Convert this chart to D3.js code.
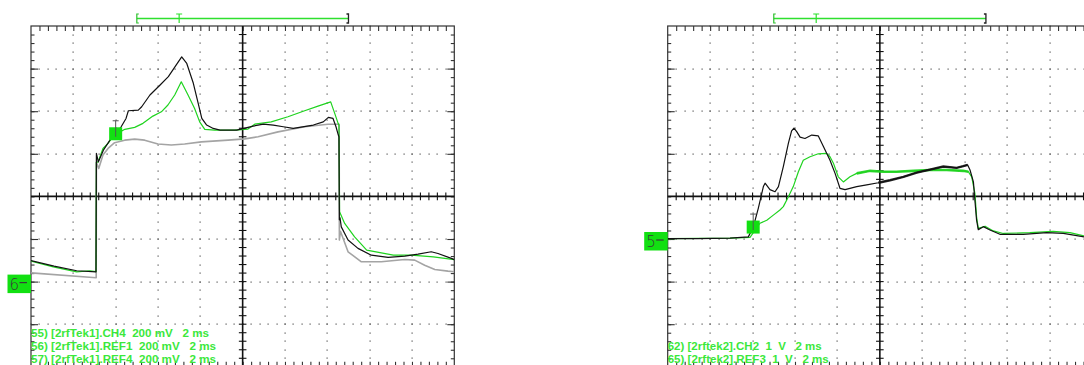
<!DOCTYPE html>
<html><head><meta charset="utf-8">
<script src="https://cdn.jsdelivr.net/npm/d3@7"></script>
<style>body{margin:0;background:#fff}svg{display:block}</style>
</head><body>
<svg id="c" width="1084" height="365"></svg>
<script>
// ---------------- DATA ----------------
// time in ms (2 ms/div, 10 div), left panel in mV (200 mV/div), right panel in V (1 V/div)
const leftCH4 = [[0,99],[1.09,73],[2.16,51],[3.07,46],[3.09,602],[3.18,562],[3.42,617],[3.73,664],[3.97,688],[4.26,727],[4.49,766],[4.60,802],[5.07,805],[5.23,821],[5.62,876],[6.10,923],[6.49,962],[6.80,1008],[7.12,1055],[7.36,1024],[7.67,931],[7.90,837],[8.07,766],[8.30,735],[8.61,719],[8.93,711],[9.72,711],[10.50,730],[10.98,739],[11.45,735],[11.92,727],[12.39,719],[13.34,735],[13.81,750],[14.05,771],[14.27,766],[14.41,727],[14.52,688],[14.55,680],[14.57,290],[14.60,300],[14.66,257],[14.98,195],[15.45,156],[16.08,124],[16.87,114],[17.66,120],[18.29,129],[18.91,140],[19.23,132],[19.86,109],[20,103]];
const leftREF1 = [[0,96],[1.05,69],[2.16,46],[2.79,51],[3.07,47],[3.09,560],[3.17,562],[3.40,625],[3.64,649],[3.87,680],[4.11,696],[4.43,715],[4.90,724],[5.29,743],[5.76,777],[6.16,797],[6.47,829],[6.79,876],[7.10,938],[7.42,876],[7.73,813],[7.97,750],[8.21,715],[8.68,711],[9.62,711],[10.25,716],[10.57,739],[11.35,750],[12.14,774],[12.93,802],[13.56,824],[14.16,844],[14.35,790],[14.51,743],[14.55,734],[14.58,328],[14.82,273],[15.29,210],[15.86,148],[17.12,124],[17.97,124],[19.01,116],[20,103]];
const leftREF4 = [[0,41],[3.08,18],[3.09,560],[3.20,531],[3.40,594],[3.64,625],[3.95,652],[4.43,664],[4.90,669],[5.37,664],[6.00,646],[6.63,641],[7.26,646],[8.05,656],[9.31,664],[10.10,670],[10.73,680],[11.67,703],[12.93,727],[14.03,739],[14.56,739],[14.57,195],[14.62,236],[14.70,215],[14.98,140],[15.61,93],[16.55,93],[17.66,104],[18.13,101],[18.60,77],[19.08,57],[19.70,49],[20,46]];
const rightCH2 = [[0,0.01],[1.37,0.01],[2.94,0.02],[3.80,0.05],[4.04,0.29],[4.27,0.72],[4.51,1.23],[4.59,1.31],[4.82,1.16],[5.06,1.11],[5.22,1.23],[5.45,1.70],[5.69,2.25],[5.84,2.54],[5.95,2.60],[6.08,2.52],[6.24,2.39],[6.47,2.36],[6.79,2.44],[7.10,2.42],[7.34,2.17],[7.65,1.85],[7.89,1.54],[8.12,1.19],[8.36,1.16],[8.91,1.23],[9.38,1.27],[9.93,1.32],[10.48,1.38],[11.11,1.46],[11.74,1.56],[12.36,1.63],[12.99,1.70],[13.62,1.67],[13.93,1.71],[14.14,1.74],[14.25,1.62],[14.41,1.34],[14.48,0.91],[14.56,0.44],[14.64,0.22],[14.88,0.29],[15.19,0.21],[15.66,0.11],[16.76,0.11],[17.86,0.15],[18.65,0.13],[19.64,0.05],[20,0.04]];
const rightREF3 = [[0,0.01],[2.94,0.02],[3.88,0.04],[4.35,0.37],[4.67,0.44],[4.98,0.56],[5.29,0.68],[5.45,0.76],[5.69,0.99],[5.92,1.23],[6.16,1.58],[6.39,1.85],[6.71,1.93],[7.10,2.00],[7.49,2.01],[7.65,1.93],[7.81,1.78],[8.04,1.46],[8.28,1.34],[8.59,1.46],[8.91,1.54],[9.54,1.60],[10.16,1.58],[10.79,1.58],[11.58,1.60],[12.36,1.62],[13.15,1.62],[13.93,1.60],[14.17,1.58],[14.33,1.46],[14.48,1.07],[14.56,0.52],[14.64,0.25],[14.96,0.30],[15.35,0.19],[15.82,0.13],[17.07,0.15],[18.17,0.18],[18.96,0.15],[19.64,0.07],[20,0.05]];
const leftLegend = ["55) [2rfTek1].CH4  200 mV   2 ms","56) [2rfTek1].REF1  200 mV   2 ms","57) [2rfTek1].REF4  200 mV   2 ms"];
const rightLegend = ["62) [2rftek2].CH2  1  V   2 ms","65) [2rftek2].REF3  1  V   2 ms"];
const timeDomainMs = [0, 20];
const leftVoltDomain = [-400, 1200];   // mV
const rightVoltDomain = [-3, 5];       // V
const groundLabels = ["6", "5"];
const triggerPoints = [[4.0, 694], [4.03, 0.28]];   // [ms, level]
const recordWindow = [5, 15, 7];                    // start, end, T mark (ms)

// ---------------- DRAW ----------------
const svg = d3.select("#c");
svg.append("rect").attr("width",1084).attr("height",365).attr("fill","#fff");
const TOP = 26, BOT = 366.8;
const GREEN_TRACE = "#1fd31f", GREEN_TEXT = "#3be83b", GREEN_FILL = "#12e012";

const panels = [
  {id:"L", x0:31, x1:454.3, yDom:leftVoltDomain, ground:0, label:groundLabels[0], trig:triggerPoints[0],
   series:[{d:leftREF4,c:"#a4a4a4",w:1.6},{d:leftREF1,c:GREEN_TRACE,w:1.2},{d:leftCH4,c:"#111",w:1.2}],
   noisy:[], legend:leftLegend, legendBase:337, legendW:[178,185,185]},
  {id:"R", x0:667.7, x1:1092, yDom:rightVoltDomain, ground:0, label:groundLabels[1], trig:triggerPoints[1],
   series:[{d:rightREF3,c:GREEN_TRACE,w:1.2},{d:rightCH2,c:"#111",w:1.2}],
   noisy:[{si:0,from:8.6,to:14.2,w:2.6},{si:1,from:9.4,to:14.2,w:2.4}],
   legend:rightLegend, legendBase:350, legendW:[154,161]}
];

svg.append("defs").selectAll("clipPath").data(panels).join("clipPath")
  .attr("id",p=>"clip"+p.id).append("rect")
  .attr("x",p=>p.x0).attr("y",TOP).attr("width",p=>p.x1-p.x0).attr("height",BOT-TOP);

panels.forEach(p=>{
  const x = d3.scaleLinear().domain(timeDomainMs).range([p.x0,p.x1]);
  const y = d3.scaleLinear().domain(p.yDom).range([BOT,TOP]);
  const xd = d3.scaleLinear().domain([0,10]).range([p.x0,p.x1]);
  const yd = d3.scaleLinear().domain([-4,4]).range([BOT,TOP]);
  const g = svg.append("g");

  // dotted graticule
  const minorX = d3.range(0,50.001,1).map(i=>i*0.2);
  const minorY = d3.range(-20,20.001,1).map(i=>i*0.2);
  const dots = [];
  [1,2,3,4,6,7,8,9].forEach(i=>minorY.forEach(v=>dots.push([xd(i),yd(v)])));
  [-3,-2,-1,1,2,3].forEach(k=>minorX.forEach(v=>dots.push([xd(v),yd(k)])));
  g.append("g").selectAll("rect").data(dots).join("rect")
    .attr("x",d=>Math.round(d[0])-0.5).attr("y",d=>Math.round(d[1])-0.5)
    .attr("width",1.2).attr("height",1.2).attr("fill","#555");

  // border
  g.append("rect").attr("x",p.x0).attr("y",TOP).attr("width",p.x1-p.x0).attr("height",BOT-TOP)
    .attr("fill","none").attr("stroke","#333").attr("stroke-width",1.2);

  // border ticks via axes
  const tickV = minorX.filter(v=>v>0&&v<10);
  const tickH = minorY.filter(v=>v>-4&&v<4);
  const ax = (axis, tr)=>g.append("g").attr("transform",tr).call(axis)
      .call(s=>{s.select(".domain").remove();s.selectAll("text").remove();
               s.selectAll("line").attr("stroke","#333").attr("stroke-width",1.1);});
  ax(d3.axisBottom(xd).tickValues(tickV).tickSize(5).tickFormat(""), `translate(0,${TOP})`);
  ax(d3.axisTop(xd).tickValues(tickV).tickSize(5).tickFormat(""), `translate(0,${BOT})`);
  ax(d3.axisRight(yd).tickValues(tickH).tickSize(3.5).tickFormat(""), `translate(${p.x0},0)`);
  ax(d3.axisLeft(yd).tickValues(tickH).tickSize(3.5).tickFormat(""), `translate(${p.x1},0)`);
  ax(d3.axisRight(yd).tickValues([-3,-2,-1,1,2,3]).tickSize(7).tickFormat(""), `translate(${p.x0},0)`);
  ax(d3.axisLeft(yd).tickValues([-3,-2,-1,1,2,3]).tickSize(7).tickFormat(""), `translate(${p.x1},0)`);

  // center cross with ticks
  const cx = xd(5), cy = yd(0);
  g.append("line").attr("x1",p.x0).attr("x2",p.x1).attr("y1",cy).attr("y2",cy).attr("stroke","#111").attr("stroke-width",1.6);
  g.append("line").attr("x1",cx).attr("x2",cx).attr("y1",TOP).attr("y2",BOT).attr("stroke","#111").attr("stroke-width",1.6);
  g.append("g").selectAll("line").data(tickV).join("line")
    .attr("x1",d=>xd(d)).attr("x2",d=>xd(d)).attr("y1",cy-3.8).attr("y2",cy+3.8)
    .attr("stroke","#111").attr("stroke-width",1.1);
  g.append("g").selectAll("line").data(tickH).join("line")
    .attr("x1",cx-3.8).attr("x2",cx+3.8).attr("y1",d=>yd(d)).attr("y2",d=>yd(d))
    .attr("stroke","#111").attr("stroke-width",1.1);

  // traces
  const line = d3.line().x(d=>x(d[0])).y(d=>y(d[1]));
  const tg = g.append("g").attr("clip-path",`url(#clip${p.id})`);
  p.series.forEach((s,si)=>{
    tg.append("path").attr("d",line(s.d)).attr("fill","none").attr("stroke",s.c)
      .attr("stroke-width",s.w).attr("stroke-linejoin","round");
    p.noisy.filter(n=>n.si===si).forEach(n=>{
      tg.append("path").attr("d",line(s.d.filter(d=>d[0]>=n.from&&d[0]<=n.to)))
        .attr("fill","none").attr("stroke",s.c).attr("stroke-width",n.w).attr("opacity",0.9);
    });
  });

  // ground marker
  const gy = y(p.ground);
  const gm = svg.append("g");
  gm.append("rect").attr("x",p.x0-23.5).attr("y",gy-7).attr("width",23.5).attr("height",18.5).attr("fill",GREEN_FILL);
  gm.append("text").attr("x",p.x0-21.5).attr("y",gy+8).attr("font-family","DejaVu Sans, sans-serif")
    .attr("font-size",15).attr("font-weight",300).attr("fill","#3a3a3a").text(p.label);
  gm.append("line").attr("x1",p.x0-11.5).attr("x2",p.x0-4).attr("y1",gy+1).attr("y2",gy+1).attr("stroke","#3a3a3a").attr("stroke-width",1.2);

  // trigger marker
  const tx = x(p.trig[0]), ty = y(p.trig[1]);
  g.append("rect").attr("x",tx-6.5).attr("y",ty-6.5).attr("width",13).attr("height",13).attr("fill",GREEN_FILL);
  g.append("line").attr("x1",tx).attr("x2",tx).attr("y1",ty-13).attr("y2",ty+3).attr("stroke","#555").attr("stroke-width",1);
  g.append("line").attr("x1",tx-3).attr("x2",tx+3).attr("y1",ty-13).attr("y2",ty-13).attr("stroke","#555").attr("stroke-width",1);

  // record window bar on top
  const bx0 = x(recordWindow[0]), bx1 = x(recordWindow[1]), bt = x(recordWindow[2]), by = 18.5;
  g.append("line").attr("x1",bx0).attr("x2",bx1).attr("y1",by).attr("y2",by).attr("stroke","#2ee02e").attr("stroke-width",1.4);
  g.append("path").attr("d",`M${bx0+2},${by-4.5}H${bx0}V${by+4.5}H${bx0+2}`).attr("fill","none").attr("stroke","#2ec02e").attr("stroke-width",1.2);
  g.append("path").attr("d",`M${bx1-2},${by-4.5}H${bx1}V${by+4.5}H${bx1-2}`).attr("fill","none").attr("stroke","#222").attr("stroke-width",1.3);
  g.append("path").attr("d",`M${bt-3},${by-4.5}H${bt+3}M${bt},${by-4.5}V${by+4.5}`).attr("fill","none").attr("stroke","#2ee02e").attr("stroke-width",1.2);

  // legend text
  g.append("g").selectAll("text").data(p.legend).join("text")
    .attr("x",p.x0).attr("y",(d,i)=>p.legendBase+i*13)
    .attr("font-family","Liberation Sans, Arial, sans-serif").attr("font-size",11).attr("font-weight","bold")
    .attr("fill",GREEN_TEXT).attr("xml:space","preserve").style("white-space","pre")
    .attr("textLength",(d,i)=>p.legendW[i]).attr("lengthAdjust","spacingAndGlyphs")
    .text(d=>d);
});
</script>
</body></html>
